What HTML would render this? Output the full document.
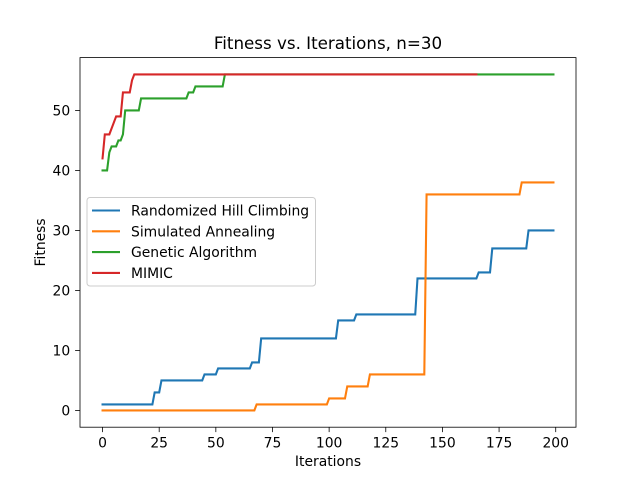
<!DOCTYPE html>
<html><head><meta charset="utf-8"><style>
html,body{margin:0;padding:0;background:#fff;}
svg{display:block;font-family:"DejaVu Sans","Liberation Sans",sans-serif;}
</style></head><body>
<svg id="chart" width="640" height="480">
<rect width="640" height="480" fill="#fff"/>
<text x="328" y="49" text-anchor="middle" font-size="16.7">Fitness vs. Iterations, n=30</text>
<g id="plot"></g>
</svg>
<script>
const rhcX=[0,22,23,25,26,44,45,50,51,65,66,69,70,103,104,111,112,138,139,165,166,171,172,187,188,199];
const rhcY=[1,1,3,3,5,5,6,6,7,7,8,8,12,12,15,15,16,16,22,22,23,23,27,27,30,30];
const saX=[0,67,68,99,100,107,108,117,118,142,143,184,185,199];
const saY=[0,0,1,1,2,2,4,4,6,6,36,36,38,38];
const gaX=[0,2,3,4,6,7,8,9,10,16,17,37,38,40,41,53,54,199];
const gaY=[40,40,43,44,44,45,45,46,50,50,52,52,53,53,54,54,56,56];
const mimicX=[0,1,3,4,6,8,9,12,13,14,165];
const mimicY=[42,46,46,47,49,49,53,53,55,56,56];
const xTicks=[0,25,50,75,100,125,150,175,200];
const yTicks=[0,10,20,30,40,50];
const seriesNames=["Randomized Hill Climbing","Simulated Annealing","Genetic Algorithm","MIMIC"];
const colors=["#1f77b4","#ff7f0e","#2ca02c","#d62728"];

const L=80,R=576,T=57.6,B=427.2;
const xMin=-9.95,xMax=208.95,yMin=-2.8,yMax=58.8;
const sx=v=>L+(v-xMin)/(xMax-xMin)*(R-L);
const sy=v=>B-(v-yMin)/(yMax-yMin)*(B-T);
const NS="http://www.w3.org/2000/svg";
const g=document.getElementById('plot');
function mk(tag,attrs){const e=document.createElementNS(NS,tag);for(const k in attrs)e.setAttribute(k,attrs[k]);g.appendChild(e);return e;}

const data=[[rhcX,rhcY],[saX,saY],[gaX,gaY],[mimicX,mimicY]];
data.forEach((d,i)=>{
  const pts=d[0].map((x,j)=>sx(x).toFixed(2)+","+sy(d[1][j]).toFixed(2)).join(" ");
  const p=mk('polyline',{points:pts,fill:"none",stroke:colors[i],"stroke-width":2.08,"stroke-linecap":"square"});
  
  
});

const frame=mk('rect',{x:L,y:T,width:R-L,height:B-T,fill:"none",stroke:"#000","stroke-width":0.8});



xTicks.forEach(v=>{
  const t=mk('line',{x1:sx(v),x2:sx(v),y1:B,y2:B+4.9,stroke:"#000","stroke-width":0.8});
  
  
  const l=mk('text',{x:sx(v),y:B+20.5,"text-anchor":"middle","font-size":13.9});
  l.textContent=v;
  
  
});
yTicks.forEach(v=>{
  const t=mk('line',{x1:L-4.9,x2:L,y1:sy(v),y2:sy(v),stroke:"#000","stroke-width":0.8});
  
  
  const l=mk('text',{x:L-9.8,y:sy(v)+5,"text-anchor":"end","font-size":13.9});
  l.textContent=v;
  
  
});
const xt=mk('text',{x:(L+R)/2,y:466,"text-anchor":"middle","font-size":13.9});
xt.textContent="Iterations";


const yt=mk('text',{x:0,y:0,"text-anchor":"middle","font-size":13.9,transform:"translate(45,"+((T+B)/2)+") rotate(-90)"});
yt.textContent="Fitness";



const lb=mk('rect',{x:87,y:197.5,width:228.5,height:88.5,rx:3,fill:"#fff","fill-opacity":0.8,stroke:"#ccc","stroke-width":1});


seriesNames.forEach((n,i)=>{
  const y=210.5+i*20.8;
  const ln=mk('line',{x1:92,x2:120,y1:y,y2:y,stroke:colors[i],"stroke-width":2.08});
  
  
  const tx=mk('text',{x:131,y:y+5,"font-size":13.9});
  tx.textContent=n;
  
  
});
</script>
</body></html>
